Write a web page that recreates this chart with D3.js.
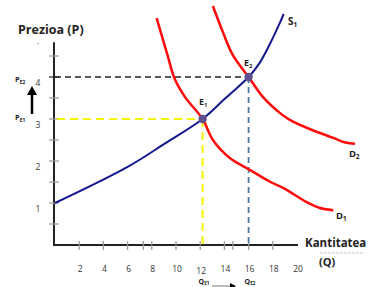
<!DOCTYPE html>
<html>
<head>
<meta charset="utf-8">
<script src="https://cdn.jsdelivr.net/npm/d3@7"></script>
<style>
  body { margin: 0; background: #fff; }
  svg { display: block; font-family: "Open Sans", "Liberation Sans", sans-serif; }
</style>
</head>
<body>
<svg id="chart" width="375" height="287"></svg>
<script>
// Values (Q = quantity, P = price)
const qTickLabels = [2, 4, 6, 8, 10, 12, 14, 16, 18, 20];
const qTickMarks = [2, 4, 6, 7.3, 8, 10, 12, 14, 14.7, 16, 18];
const pTickLabels = [1, 2, 3, 4];
const pTickMarks = [0.5, 1, 1.5, 2, 2.5, 3, 3.5, 4, 4.5];

const supply = [[0, 1.0], [6, 1.86], [9.1, 2.42], [12.2, 3], [14.1, 3.5], [16, 4], [16.9, 4.33], [17.8, 4.81], [18.6, 5.3], [18.9, 5.5]];
const demand1 = [[8.4, 5.4], [9.25, 4.57], [9.9, 3.95], [10.75, 3.52], [12.2, 3], [13.05, 2.5], [14.45, 2.07], [16.1, 1.79], [17.8, 1.5], [18.85, 1.36], [20.8, 1.02], [21.9, 0.88], [23, 0.83]];
const demand2 = [[13.05, 5.69], [13.9, 5.05], [14.7, 4.52], [16, 4], [17.2, 3.52], [18.6, 3.14], [19.4, 2.98], [21.4, 2.72], [23, 2.55], [24, 2.44], [24.8, 2.41]];

const eq1 = { q: 12.2, p: 3 };
const eq2 = { q: 16, p: 4 };

const svg = d3.select('#chart');

const x = d3.scaleLinear().domain([0, 20]).range([55, 297]);
const y = d3.scaleLinear().domain([0, 4]).range([245, 77]);

// axes
svg.append('line')
    .attr('x1', x(0) - 1).attr('x2', 298)
    .attr('y1', y(0)).attr('y2', y(0))
    .attr('stroke', '#222').attr('stroke-width', 2);
svg.append('line')
    .attr('x1', x(0) - 1).attr('x2', x(0) - 1)
    .attr('y1', y(0) + 1).attr('y2', y(4.83))
    .attr('stroke', '#222').attr('stroke-width', 2);

svg.selectAll('.ytick')
    .data(pTickMarks)
    .enter().append('line')
    .attr('x1', x(0) - 6).attr('x2', x(0) + 4)
    .attr('y1', d => y(d)).attr('y2', d => y(d))
    .attr('stroke', d => d === 4 ? '#222' : '#999')
    .attr('stroke-width', 1.2);

svg.selectAll('.xtick')
    .data(qTickMarks)
    .enter().append('line')
    .attr('x1', d => x(d)).attr('x2', d => x(d))
    .attr('y1', y(0) - 4).attr('y2', y(0) + 5)
    .attr('stroke', '#999')
    .attr('stroke-width', 1.2);

svg.selectAll('.ylabel')
    .data(pTickLabels)
    .enter().append('text')
    .attr('x', 38).attr('y', d => y(d) + 9)
    .attr('text-anchor', 'middle')
    .attr('font-size', 8.5).attr('fill', '#333')
    .text(d => d);

svg.selectAll('.xlabel')
    .data(qTickLabels)
    .enter().append('text')
    .attr('x', d => x(d) + 1).attr('y', d => d === 12 ? 274 : 272)
    .attr('text-anchor', 'middle')
    .attr('font-size', 8.5).attr('fill', '#333')
    .text(d => d);

svg.append('text').attr('x', 38).attr('y', 45).attr('text-anchor', 'middle')
    .attr('font-size', 7).attr('fill', '#666').text('-');

// guide lines
svg.append('line')
    .attr('x1', x(0)).attr('x2', x(eq2.q))
    .attr('y1', y(eq2.p)).attr('y2', y(eq2.p))
    .attr('stroke', '#222').attr('stroke-width', 1.6).attr('stroke-dasharray', '6,4');
svg.append('line')
    .attr('x1', x(eq2.q)).attr('x2', x(eq2.q))
    .attr('y1', y(eq2.p)).attr('y2', y(0))
    .attr('stroke', '#4d7aa6').attr('stroke-width', 1.8).attr('stroke-dasharray', '6,4');
svg.append('line')
    .attr('x1', x(0) + 2).attr('x2', x(eq1.q))
    .attr('y1', y(eq1.p)).attr('y2', y(eq1.p))
    .attr('stroke', '#f4f400').attr('stroke-width', 2).attr('stroke-dasharray', '8,5');
svg.append('line')
    .attr('x1', x(eq1.q)).attr('x2', x(eq1.q))
    .attr('y1', y(eq1.p)).attr('y2', y(0))
    .attr('stroke', '#f4f400').attr('stroke-width', 2).attr('stroke-dasharray', '8,5');

// curves
const line = d3.line()
    .x(d => x(d[0]))
    .y(d => y(d[1]))
    .curve(d3.curveCatmullRom.alpha(0.5));

svg.append('path').datum(demand1).attr('d', line)
    .attr('fill', 'none').attr('stroke', '#ff0a0a').attr('stroke-width', 2.5);
svg.append('path').datum(demand2).attr('d', line)
    .attr('fill', 'none').attr('stroke', '#ff0a0a').attr('stroke-width', 2.5);
svg.append('path').datum(supply).attr('d', line)
    .attr('fill', 'none').attr('stroke', '#14188c').attr('stroke-width', 2);

svg.selectAll('.eq')
    .data([eq1, eq2])
    .enter().append('circle')
    .attr('cx', d => x(d.q)).attr('cy', d => y(d.p))
    .attr('r', 4.2)
    .attr('fill', '#5e4f8c');

// labels with subscripts
function subLabel(px, py, main, sub, size, weight) {
    const t = svg.append('text')
        .attr('x', px).attr('y', py)
        .attr('font-size', size).attr('font-weight', weight || 'bold')
        .attr('fill', '#222');
    t.append('tspan').text(main);
    t.append('tspan').attr('font-size', size * 0.65).attr('dy', size * 0.2).text(sub);
    return t;
}

subLabel(288, 25, 'S', '1', 10);
subLabel(244, 66, 'E', '2', 9);
subLabel(199, 105, 'E', '1', 9);
subLabel(349, 157, 'D', '2', 9.5);
subLabel(336, 219, 'D', '1', 9.5);
subLabel(15, 82, 'P', 'E2', 7.5);
subLabel(15, 120, 'P', 'E1', 7.5);
subLabel(x(eq1.q) - 4, 284, 'Q', 'E1', 7);
subLabel(x(eq2.q) - 4, 284, 'Q', 'E2', 7);

svg.append('text').attr('x', 18).attr('y', 34)
    .attr('font-size', 12.5).attr('font-weight', 'bold').attr('fill', '#222')
    .text('Prezioa (P)');
svg.append('text').attr('x', 305).attr('y', 247)
    .attr('font-size', 11.5).attr('font-weight', 'bold').attr('fill', '#222')
    .text('Kantitatea');
svg.append('text').attr('x', 319).attr('y', 266)
    .attr('font-size', 11).attr('font-weight', 'bold').attr('fill', '#222')
    .text('(Q)');
svg.append('line').attr('x1', 320).attr('x2', 364).attr('y1', 253).attr('y2', 253)
    .attr('stroke', '#bbb').attr('stroke-width', 0.8).attr('stroke-dasharray', '3,1');

// price arrow
svg.append('line').attr('x1', 32).attr('x2', 32).attr('y1', 114).attr('y2', 94)
    .attr('stroke', '#000').attr('stroke-width', 2.5);
svg.append('path').attr('d', 'M27,95 L32,86 L37,95 Z').attr('fill', '#000');

// quantity arrow (cut by the bottom edge)
svg.append('line').attr('x1', 212).attr('x2', 231).attr('y1', 286).attr('y2', 286)
    .attr('stroke', '#555').attr('stroke-width', 0.8);
svg.append('path').attr('d', 'M230,283 L236,286 L230,289 Z').attr('fill', '#000');
</script>
</body>
</html>
